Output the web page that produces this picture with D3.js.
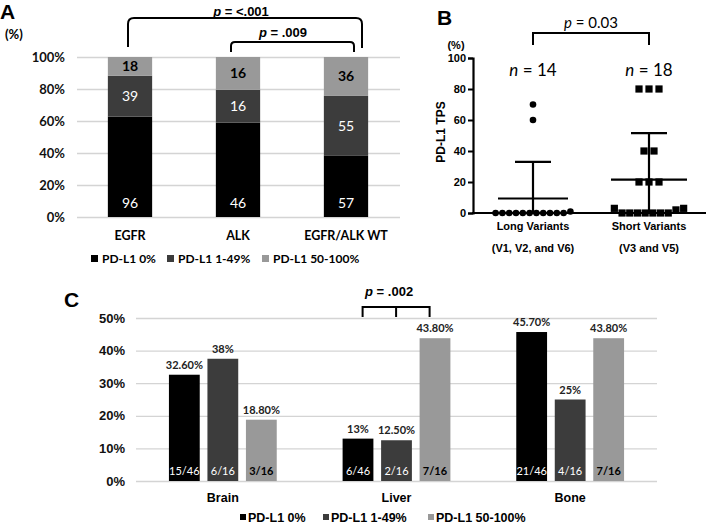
<!DOCTYPE html>
<html><head><meta charset="utf-8">
<script src="https://cdn.jsdelivr.net/npm/d3@7"></script>
<style>
body{margin:0;background:#fff;}
svg{display:block;}
</style></head>
<body>
<svg id="chart" width="709" height="525"></svg>
<script>
// ---------- Panel A data ----------
const aCategories = ["EGFR", "ALK", "EGFR/ALK WT"];
const aSeries = ["PD-L1 0%", "PD-L1 1-49%", "PD-L1 50-100%"];
const aCounts0 = [96, 46, 57];
const aCounts1 = [39, 16, 55];
const aCounts2 = [18, 16, 36];
const aTicks = [0, 20, 40, 60, 80, 100];
const aPLabels = ["<.001", ".009"];

// ---------- Panel B data ----------
const bCategories = ["Long Variants", "Short Variants"];
const bSubLabels = ["(V1, V2, and V6)", "(V3 and V5)"];
const bLong = [70, 60, 0, 0, 0, 0, 0, 0, 0, 0, 0, 0, 0, 1];
const bShort = [80, 80, 80, 40, 40, 20, 20, 20, 3, 0, 0, 0, 0, 0, 0, 0, 2, 3];
const bTicks = [0, 20, 40, 60, 80, 100];
const bPLabel = "0.03";

// ---------- Panel C data ----------
const cSites = ["Brain", "Liver", "Bone"];
const cPct0 = [32.6, 13, 45.7];
const cPct1 = [37.5, 12.5, 25];
const cPct2 = [18.8, 43.8, 43.8];
const cPctLabels0 = ["32.60%", "13%", "45.70%"];
const cPctLabels1 = ["38%", "12.50%", "25%"];
const cPctLabels2 = ["18.80%", "43.80%", "43.80%"];
const cFrac0 = ["15/46", "6/46", "21/46"];
const cFrac1 = ["6/16", "2/16", "4/16"];
const cFrac2 = ["3/16", "7/16", "7/16"];
const cTicks = [0, 10, 20, 30, 40, 50];
const cPLabel = ".002";

const colors = ["#000000", "#3c3c3c", "#999999"];
const ARIAL = "'Liberation Sans', Arial, sans-serif";
const CAL = "Lato, 'Open Sans', sans-serif";
const svg = d3.select("#chart");

// ================= PANEL A =================
(function(){
  const g = svg.append("g");
  const x = d3.scaleBand().domain(aCategories).range([76, 400]).paddingInner(0.59).paddingOuter(0.295);
  const y = d3.scaleLinear().domain([0, 100]).range([217, 57]);

  g.append("text").attr("x", 0).attr("y", 19).attr("font-family", ARIAL).attr("font-weight", "bold")
    .attr("font-size", 21).text("A");
  g.append("text").attr("x", 5).attr("y", 39).attr("font-family", CAL).attr("font-weight", "bold")
    .attr("font-size", 13).text("(%)");

  const ax = g.append("g").attr("transform", "translate(77,0)")
    .call(d3.axisLeft(y).tickValues(aTicks).tickFormat(d => d + "%").tickSize(-323).tickPadding(12));
  ax.select(".domain").remove();
  ax.selectAll(".tick line").attr("stroke", "#d4d4d4").attr("stroke-width", 1.3);
  ax.selectAll(".tick text").attr("font-family", CAL).attr("font-weight", "bold").attr("font-size", 13).attr("fill", "#111");

  const rows = aCategories.map((c, i) => ({cat: c, vals: [aCounts0[i], aCounts1[i], aCounts2[i]]}));
  rows.forEach(r => {
    const tot = d3.sum(r.vals);
    let cum = 0;
    r.segs = r.vals.map((v, k) => { const s = {k, v, y0: cum / tot * 100, y1: (cum + v) / tot * 100}; cum += v; return s; });
  });
  rows.forEach(r => {
    const gg = g.append("g");
    gg.selectAll("rect").data(r.segs).join("rect")
      .attr("x", x(r.cat)).attr("width", x.bandwidth())
      .attr("y", d => y(d.y1)).attr("height", d => y(d.y0) - y(d.y1))
      .attr("fill", d => colors[d.k]);
    gg.selectAll("text").data(r.segs).join("text")
      .attr("x", x(r.cat) + x.bandwidth() / 2)
      .attr("y", d => d.k === 0 ? y(0) - 9 : (y(d.y0) + y(d.y1)) / 2 + 5)
      .attr("text-anchor", "middle")
      .attr("font-family", CAL).attr("font-size", 14)
      .attr("font-weight", d => d.k === 2 ? "bold" : "normal")
      .attr("fill", d => d.k === 2 ? "#000" : "#fff")
      .text(d => d.v);
  });

  g.selectAll(".acat").data(aCategories).join("text")
    .attr("x", d => x(d) + x.bandwidth() / 2).attr("y", 240)
    .attr("text-anchor", "middle").attr("font-family", CAL).attr("font-weight", "bold").attr("font-size", 12.5)
    .text(d => d);

  // legend
  const legX = [91, 167, 262];
  aSeries.forEach((s, i) => {
    g.append("rect").attr("x", legX[i]).attr("y", 255).attr("width", 7).attr("height", 7).attr("fill", colors[i]);
    g.append("text").attr("x", legX[i] + 11).attr("y", 263).attr("font-family", CAL).attr("font-weight", "bold")
      .attr("font-size", 12).text(s);
  });

  // brackets
  function bracket(x1, x2, yTop, yL, yR, r){
    const p = d3.path();
    p.moveTo(x1, yL); p.lineTo(x1, yTop + r); p.quadraticCurveTo(x1, yTop, x1 + r, yTop);
    p.lineTo(x2 - r, yTop); p.quadraticCurveTo(x2, yTop, x2, yTop + r); p.lineTo(x2, yR);
    g.append("path").attr("d", p.toString()).attr("fill", "none").attr("stroke", "#000").attr("stroke-width", 2);
  }
  const cx = c => x(c) + x.bandwidth() / 2;
  bracket(cx("EGFR") - 2, cx("EGFR/ALK WT") + 16, 18, 47, 48, 6);
  bracket(cx("ALK") - 7, cx("EGFR/ALK WT") + 8, 42, 52, 52, 4);
  function pText(xc, yb, val){
    const t = g.append("text").attr("x", xc).attr("y", yb).attr("text-anchor", "middle")
      .attr("font-family", ARIAL).attr("font-weight", "bold").attr("font-size", 13);
    t.append("tspan").attr("font-style", "italic").text("p");
    t.append("tspan").text(" = " + val);
  }
  pText(241, 16, aPLabels[0]);
  pText(283, 37, aPLabels[1]);
})();

// ================= PANEL B =================
(function(){
  const g = svg.append("g");
  const x = d3.scalePoint().domain(bCategories).range([533, 649]);
  const y = d3.scaleLinear().domain([0, 100]).range([213, 58]);

  g.append("text").attr("x", 437).attr("y", 25).attr("font-family", ARIAL).attr("font-weight", "bold")
    .attr("font-size", 21).text("B");
  g.append("text").attr("x", 456).attr("y", 49).attr("text-anchor", "middle").attr("font-family", ARIAL)
    .attr("font-weight", "bold").attr("font-size", 11).text("(%)");

  const ay = g.append("g").attr("transform", "translate(473,0)")
    .call(d3.axisLeft(y).tickValues(bTicks).tickSize(5).tickPadding(2));
  ay.select(".domain").attr("stroke-width", 2.2);
  ay.selectAll(".tick line").attr("stroke-width", 2);
  ay.selectAll(".tick text").attr("font-family", ARIAL).attr("font-weight", "bold").attr("font-size", 11).attr("fill", "#000");
  g.append("line").attr("x1", 472).attr("x2", 706).attr("y1", y(0)).attr("y2", y(0))
    .attr("stroke", "#000").attr("stroke-width", 2.2);

  g.append("text").attr("transform", "translate(445,132) rotate(-90)").attr("text-anchor", "middle")
    .attr("font-family", ARIAL).attr("font-weight", "bold").attr("font-size", 12).text("PD-L1 TPS");

  const groups = [bLong, bShort];
  groups.forEach((vals, gi) => {
    const cat = bCategories[gi];
    const xc = x(cat);
    const mean = d3.mean(vals), sd = d3.deviation(vals);
    // error bars
    const half = gi === 0 ? 35 : 38;
    g.append("line").attr("x1", xc - half).attr("x2", xc + half).attr("y1", y(mean)).attr("y2", y(mean))
      .attr("stroke", "#000").attr("stroke-width", 2.2);
    g.append("line").attr("x1", xc).attr("x2", xc).attr("y1", y(Math.max(0, mean - sd))).attr("y2", y(mean + sd))
      .attr("stroke", "#000").attr("stroke-width", 2.2);
    g.append("line").attr("x1", xc - 18).attr("x2", xc + 18).attr("y1", y(mean + sd)).attr("y2", y(mean + sd))
      .attr("stroke", "#000").attr("stroke-width", 2.2);

    // bin points for spreading
    const bins = [];
    vals.forEach(v => {
      let b = bins.find(bb => Math.abs(bb.key - v) <= 4);
      if (!b) { b = {key: v, pts: []}; bins.push(b); }
      b.pts.push(v);
    });
    const pts = [];
    bins.forEach(b => {
      const n = b.pts.length;
      const sp = gi === 0 ? 6.8 : (n > 5 ? 7.7 : 10);
      b.pts.forEach((v, i) => pts.push({v, dx: (i - (n - 1) / 2) * sp}));
    });
    if (gi === 0) {
      g.selectAll(".dotL").data(pts).join("circle")
        .attr("cx", d => xc + d.dx).attr("cy", d => y(d.v)).attr("r", 3.3).attr("fill", "#000");
    } else {
      g.selectAll(".sqS").data(pts).join("rect")
        .attr("x", d => xc + d.dx - 3.6).attr("y", d => y(d.v) - 3.6).attr("width", 7.2).attr("height", 7.2).attr("fill", "#000");
    }
    const nt = g.append("text").attr("x", xc).attr("y", 76).attr("text-anchor", "middle")
      .attr("font-family", CAL).attr("font-size", 17);
    nt.append("tspan").attr("font-style", "italic").text("n");
    nt.append("tspan").text(" = " + vals.length);

    g.append("text").attr("x", xc).attr("y", 230).attr("text-anchor", "middle").attr("font-family", ARIAL)
      .attr("font-weight", "bold").attr("font-size", 11).text(cat);
    g.append("text").attr("x", xc).attr("y", 252).attr("text-anchor", "middle").attr("font-family", ARIAL)
      .attr("font-weight", "bold").attr("font-size", 11).text(bSubLabels[gi]);
  });

  const p = d3.path();
  p.moveTo(x(bCategories[0]), 45); p.lineTo(x(bCategories[0]), 33); p.lineTo(x(bCategories[1]), 33); p.lineTo(x(bCategories[1]), 45);
  g.append("path").attr("d", p.toString()).attr("fill", "none").attr("stroke", "#000").attr("stroke-width", 2);
  const pt = g.append("text").attr("x", 591).attr("y", 28).attr("text-anchor", "middle")
    .attr("font-family", CAL).attr("font-size", 15);
  pt.append("tspan").attr("font-style", "italic").text("p");
  pt.append("tspan").text(" = " + bPLabel);
})();

// ================= PANEL C =================
(function(){
  const g = svg.append("g");
  const x0 = d3.scaleBand().domain(cSites).range([136, 657]);
  const x1 = d3.scaleBand().domain(aSeries).range([0, 115.5]).paddingInner(0.2).paddingOuter(0.1);
  const y = d3.scaleLinear().domain([0, 50]).range([481, 318]);

  g.append("text").attr("x", 64).attr("y", 307).attr("font-family", ARIAL).attr("font-weight", "bold")
    .attr("font-size", 21).text("C");

  const ax = g.append("g").attr("transform", "translate(136,0)")
    .call(d3.axisLeft(y).tickValues(cTicks).tickFormat(d => d + "%").tickSize(-521).tickPadding(11));
  ax.select(".domain").remove();
  ax.selectAll(".tick line").attr("stroke", "#d4d4d4").attr("stroke-width", 1.3);
  ax.selectAll(".tick text").attr("font-family", ARIAL).attr("font-weight", "bold").attr("font-size", 13).attr("fill", "#111");

  const pctArr = [cPct0, cPct1, cPct2];
  const lblArr = [cPctLabels0, cPctLabels1, cPctLabels2];
  const fracArr = [cFrac0, cFrac1, cFrac2];
  cSites.forEach((site, i) => {
    const base = x0(site) + x0.bandwidth() / 2 - 57.75;
    const data = aSeries.map((s, k) => ({s, k, v: pctArr[k][i], lbl: lblArr[k][i], frac: fracArr[k][i]}));
    const gg = g.append("g").attr("transform", `translate(${base},0)`);
    gg.selectAll("rect").data(data).join("rect")
      .attr("x", d => x1(d.s)).attr("width", x1.bandwidth())
      .attr("y", d => y(d.v)).attr("height", d => y(0) - y(d.v))
      .attr("fill", d => colors[d.k]);
    gg.selectAll(".lbl").data(data).join("text").attr("class", "lbl")
      .attr("x", d => x1(d.s) + x1.bandwidth() / 2).attr("y", d => y(d.v) - 6)
      .attr("text-anchor", "middle").attr("font-family", CAL).attr("font-weight", "bold").attr("font-size", 11)
      .attr("fill", "#222").text(d => d.lbl);
    gg.selectAll(".frac").data(data).join("text").attr("class", "frac")
      .attr("x", d => x1(d.s) + x1.bandwidth() / 2).attr("y", 475)
      .attr("text-anchor", "middle").attr("font-family", CAL).attr("font-size", 11)
      .attr("font-weight", d => d.k === 2 ? "bold" : "normal")
      .attr("fill", d => d.k === 2 ? "#000" : "#fff").text(d => d.frac);
  });

  g.selectAll(".ccat").data(cSites).join("text")
    .attr("x", d => x0(d) + x0.bandwidth() / 2).attr("y", 502)
    .attr("text-anchor", "middle").attr("font-family", ARIAL).attr("font-weight", "bold").attr("font-size", 12.5)
    .text(d => d);

  const legX = [240, 323, 428];
  aSeries.forEach((s, i) => {
    g.append("rect").attr("x", legX[i]).attr("y", 514).attr("width", 6).attr("height", 6).attr("fill", colors[i]);
    g.append("text").attr("x", legX[i] + 8).attr("y", 521.5).attr("font-family", ARIAL).attr("font-weight", "bold")
      .attr("font-size", 12.5).text(s);
  });

  // bracket over Liver
  const lb = x0("Liver") + x0.bandwidth() / 2 - 57.75;
  const xl = lb + x1("PD-L1 0%") + 20, xr = lb + x1("PD-L1 50-100%") + 10, xm = (xl + xr) / 2;
  const p = d3.path();
  p.moveTo(xl, 317); p.lineTo(xl, 307); p.lineTo(xr, 307); p.lineTo(xr, 317);
  p.moveTo(xm, 307); p.lineTo(xm, 317);
  g.append("path").attr("d", p.toString()).attr("fill", "none").attr("stroke", "#000").attr("stroke-width", 2);
  const pt = g.append("text").attr("x", xm - 7).attr("y", 296).attr("text-anchor", "middle")
    .attr("font-family", ARIAL).attr("font-weight", "bold").attr("font-size", 13);
  pt.append("tspan").attr("font-style", "italic").text("p");
  pt.append("tspan").text(" = " + cPLabel);
})();
</script>
</body></html>
